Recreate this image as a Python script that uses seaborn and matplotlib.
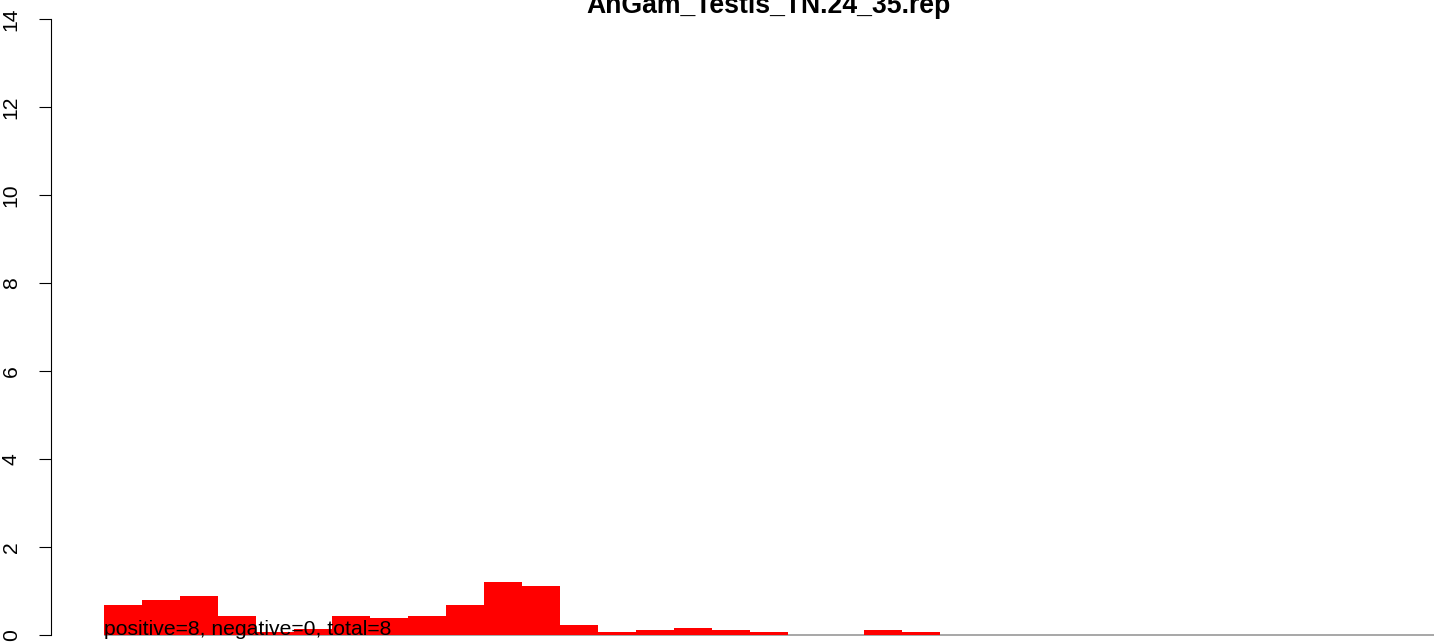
import seaborn as sns
import matplotlib.pyplot as plt
import pandas as pd

# Data
bins = [str(i) for i in range(1, 36)]
counts = [0.68, 0.79, 0.88, 0.43, 0.07, 0.13, 0.43, 0.39, 0.43, 0.68,
          1.20, 1.11, 0.23, 0.07, 0.11, 0.16, 0.11, 0.07, 0.0, 0.0,
          0.11, 0.07, 0.0, 0.0, 0.0, 0.0, 0.0, 0.0, 0.0, 0.0,
          0.0, 0.0, 0.0, 0.0, 0.0]
title = "AnGam_Testis_TN.24_35.rep"
note = "positive=8, negative=0, total=8"
y_ticks = [0, 2, 4, 6, 8, 10, 12, 14]

df = pd.DataFrame({"bin": bins, "value": counts})

sns.set_style("white")
plt.rcParams['font.family'] = ['Liberation Sans', 'DejaVu Sans']
plt.rcParams['text.color'] = 'black'
plt.rcParams['ytick.color'] = 'black'

W, H = 1444, 643
fig = plt.figure(figsize=(W / 100, H / 100), dpi=100)
left_px, bottom_px, top_px = 50.7, 635, 19
ax = fig.add_axes([left_px / W, 1 - bottom_px / H, 1 - left_px / W, (bottom_px - top_px) / H])

sns.barplot(data=df, x="bin", y="value", order=bins, color="red", saturation=1,
            width=1.0, linewidth=0, ax=ax)

# gray baseline under the bars
ax.hlines(0, -0.5, len(bins) - 0.5, color="#a0a0a0", lw=1.3, zorder=0, clip_on=False)

ax.set_xlim(-1.9, 34.76)
ax.set_ylim(0, 14)
ax.set_yticks(y_ticks)
ax.set_yticklabels([str(t) for t in y_ticks], rotation=90, va="center", fontsize=15.2)
ax.tick_params(axis="y", length=8.6, width=0.8, pad=13, left=True,
               color="black", labelcolor="black")
ax.set_xticks([])
ax.set_xlabel("")
ax.set_ylabel("")

for side in ["top", "right", "bottom"]:
    ax.spines[side].set_visible(False)
ax.spines["left"].set_color("black")
ax.spines["left"].set_linewidth(0.8)

ax.text(-0.5, 0, note, fontsize=15.2, ha="left", va="baseline", color="black", clip_on=False)

# title sits partly above the top edge, as in the reference
fig.text(768 / W, 1 - 13 / H, title, fontsize=19.2, color="black",
         fontweight="bold", ha="center", va="baseline")

fig.savefig("out.png", dpi=100)
